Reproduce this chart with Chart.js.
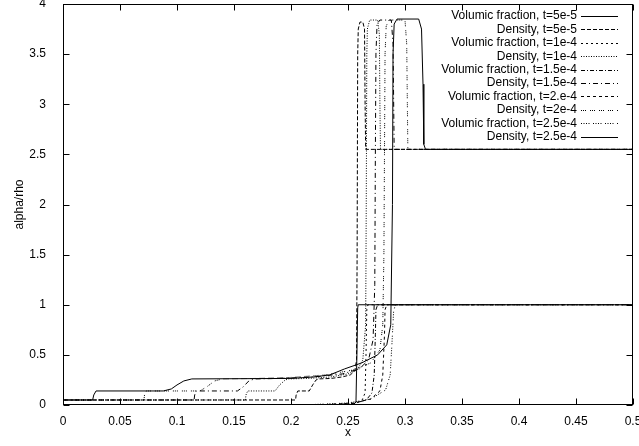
<!DOCTYPE html>
<html>
<head>
<meta charset="utf-8">
<script src="https://cdn.jsdelivr.net/npm/chart.js@4/dist/chart.umd.min.js"></script>
<style>
html, body { margin: 0; padding: 0; background: #fff; }
canvas { display: block; }
</style>
</head>
<body>
<canvas id="chart" width="639" height="446"></canvas>
<script>
// tick values / labels
const xTickValues = [0, 0.05, 0.1, 0.15, 0.2, 0.25, 0.3, 0.35, 0.4, 0.45, 0.5];
const xTickLabels = ['0', '0.05', '0.1', '0.15', '0.2', '0.25', '0.3', '0.35', '0.4', '0.45', '0.5'];
const yTickValues = [0, 0.5, 1, 1.5, 2, 2.5, 3, 3.5, 4];
const yTickLabels = ['0', '0.5', '1', '1.5', '2', '2.5', '3', '3.5', '4'];

const seriesNames = [
    'Volumic fraction, t=5e-5', 'Density, t=5e-5',
    'Volumic fraction, t=1e-4', 'Density, t=1e-4',
    'Volumic fraction, t=1.5e-4', 'Density, t=1.5e-4',
    'Volumic fraction, t=2.e-4', 'Density, t=2e-4',
    'Volumic fraction, t=2.5e-4', 'Density, t=2.5e-4'
];

// t = 5e-5
const vf1X = [0, 0.255, 0.257, 0.2578, 0.2585, 0.259, 0.5];
const vf1Y = [0, 0.005, 0.03, 0.5, 0.97, 1, 1];
const rho1X = [0, 0.204, 0.2045, 0.206, 0.216, 0.219, 0.222, 0.224, 0.235, 0.245, 0.252, 0.256, 0.2575, 0.258, 0.2585, 0.259, 0.2605, 0.263, 0.2645, 0.265, 0.2655, 0.5];
const rho1Y = [0.05, 0.05, 0.1, 0.14, 0.14, 0.2, 0.25, 0.26, 0.265, 0.28, 0.3, 0.34, 0.45, 1.5, 3.5, 3.75, 3.82, 3.82, 3.75, 3.0, 2.55, 2.55];

// t = 1e-4
const vf2X = [0, 0.24, 0.255, 0.262, 0.265, 0.2658, 0.2665, 0.2675, 0.5];
const vf2Y = [0, 0.002, 0.01, 0.04, 0.12, 0.5, 0.95, 1, 1];
const rho2X = [0, 0.16, 0.1605, 0.162, 0.186, 0.19, 0.195, 0.198, 0.215, 0.235, 0.25, 0.258, 0.263, 0.2655, 0.266, 0.2665, 0.267, 0.269, 0.276, 0.2775, 0.278, 0.2785, 0.5];
const rho2Y = [0.05, 0.05, 0.1, 0.14, 0.14, 0.2, 0.25, 0.26, 0.265, 0.28, 0.31, 0.35, 0.45, 0.8, 2, 3.5, 3.75, 3.84, 3.84, 3.7, 3.0, 2.55, 2.55];

// t = 1.5e-4
const vf3X = [0, 0.235, 0.255, 0.266, 0.271, 0.273, 0.274, 0.2745, 0.276, 0.5];
const vf3Y = [0, 0.003, 0.015, 0.05, 0.12, 0.3, 0.7, 0.95, 1, 1];
const rho3X = [0, 0.115, 0.1155, 0.117, 0.153, 0.158, 0.163, 0.168, 0.19, 0.22, 0.245, 0.26, 0.268, 0.272, 0.2735, 0.274, 0.2745, 0.2755, 0.278, 0.288, 0.2895, 0.2905, 0.5];
const rho3Y = [0.05, 0.05, 0.1, 0.14, 0.14, 0.18, 0.24, 0.26, 0.265, 0.28, 0.31, 0.36, 0.45, 0.65, 1.2, 2.5, 3.5, 3.8, 3.84, 3.84, 3.6, 2.55, 2.55];

// t = 2e-4
const vf4X = [0, 0.23, 0.255, 0.27, 0.278, 0.2805, 0.282, 0.2825, 0.284, 0.5];
const vf4Y = [0, 0.004, 0.02, 0.06, 0.14, 0.3, 0.7, 0.95, 1, 1];
const rho4X = [0, 0.071, 0.0715, 0.073, 0.12, 0.126, 0.133, 0.14, 0.17, 0.2, 0.23, 0.255, 0.27, 0.278, 0.2805, 0.2815, 0.282, 0.2825, 0.2835, 0.286, 0.3, 0.3015, 0.3025, 0.5];
const rho4Y = [0.05, 0.05, 0.1, 0.14, 0.14, 0.18, 0.24, 0.26, 0.265, 0.275, 0.3, 0.35, 0.42, 0.55, 0.8, 1.5, 2.5, 3.5, 3.78, 3.84, 3.84, 3.6, 2.55, 2.55];

// t = 2.5e-4
const vf5X = [0, 0.22, 0.25, 0.27, 0.283, 0.287, 0.2885, 0.29, 0.2915, 0.5];
const vf5Y = [0, 0.005, 0.02, 0.06, 0.15, 0.3, 0.6, 0.93, 1, 1];
const rho5X = [0, 0.026, 0.027, 0.029, 0.088, 0.095, 0.1, 0.106, 0.113, 0.2, 0.22, 0.234, 0.247, 0.262, 0.276, 0.284, 0.2875, 0.289, 0.2895, 0.2905, 0.293, 0.312, 0.3145, 0.3158, 0.3165, 0.318, 0.5];
const rho5Y = [0.05, 0.05, 0.1, 0.14, 0.14, 0.16, 0.2, 0.24, 0.26, 0.265, 0.28, 0.3, 0.36, 0.42, 0.5, 0.6, 0.8, 2, 3.5, 3.8, 3.85, 3.85, 3.75, 3.2, 2.6, 2.55, 2.55];

const seriesX = [vf1X, rho1X, vf2X, rho2X, vf3X, rho3X, vf4X, rho4X, vf5X, rho5X];
const seriesY = [vf1Y, rho1Y, vf2Y, rho2Y, vf3Y, rho3Y, vf4Y, rho4Y, vf5Y, rho5Y];
const dashes = [
    [], [4, 2], [2, 3], [1, 1.5], [4, 2, 1, 2],
    [5, 3, 1, 3], [3, 3], [1, 1, 1, 1, 1, 4], [1, 1.5, 1, 1.5, 1, 1.5, 1, 3.5], []
];

const FONT = '"Liberation Sans", Arial, Helvetica, sans-serif';

const datasets = seriesX.map((xs, i) => ({
    label: seriesNames[i],
    data: xs.map((x, j) => ({ x: x, y: seriesY[i][j] })),
    borderColor: '#000',
    borderWidth: 1,
    borderDash: dashes[i],
    pointRadius: 0,
    showLine: true,
    fill: false,
    tension: 0
}));

// gnuplot-like frame with inward ticks, legend and axis titles
const gnuplotLook = {
    id: 'gnuplotLook',
    afterDraw(chart) {
        const ctx = chart.ctx;
        const a = chart.chartArea;
        const xs = chart.scales.x, ys = chart.scales.y;
        const L = Math.round(a.left) + 0.5, R = Math.round(a.right) - 0.5;
        const T = Math.round(a.top) + 0.5, B = Math.round(a.bottom) - 0.5;
        ctx.save();
        ctx.strokeStyle = '#000';
        ctx.lineWidth = 1;
        ctx.setLineDash([]);
        ctx.strokeRect(L, T, R - L, B - T);
        ctx.beginPath();
        xTickValues.forEach(v => {
            const px = Math.round(xs.getPixelForValue(v)) + 0.5;
            ctx.moveTo(px, B); ctx.lineTo(px, B - 6);
            ctx.moveTo(px, T); ctx.lineTo(px, T + 6);
        });
        yTickValues.forEach(v => {
            const py = Math.round(ys.getPixelForValue(v)) + 0.5;
            ctx.moveTo(L, py); ctx.lineTo(L + 6, py);
            ctx.moveTo(R, py); ctx.lineTo(R - 6, py);
        });
        ctx.stroke();

        // legend
        ctx.font = '12px ' + FONT;
        ctx.fillStyle = '#000';
        ctx.textAlign = 'right';
        ctx.textBaseline = 'middle';
        chart.data.datasets.forEach((ds, i) => {
            const ry = 16 + i * 13.4;
            ctx.fillText(ds.label, 577, ry);
            ctx.beginPath();
            ctx.setLineDash(ds.borderDash);
            ctx.moveTo(581, Math.round(ry) + 0.5);
            ctx.lineTo(618, Math.round(ry) + 0.5);
            ctx.stroke();
        });
        ctx.setLineDash([]);

        // axis titles
        ctx.textAlign = 'center';
        ctx.fillText('x', (a.left + a.right) / 2, 433);
        ctx.translate(20, (a.top + a.bottom) / 2);
        ctx.rotate(-Math.PI / 2);
        ctx.fillText('alpha/rho', 0, 0);
        ctx.restore();
    }
};

new Chart(document.getElementById('chart').getContext('2d'), {
    type: 'scatter',
    data: { datasets: datasets },
    options: {
        responsive: false,
        animation: false,
        devicePixelRatio: 1,
        layout: { padding: { top: 4, right: 6, left: 0, bottom: 0 } },
        plugins: {
            legend: { display: false },
            tooltip: { enabled: false }
        },
        scales: {
            x: {
                type: 'linear',
                min: 0,
                max: 0.5,
                afterBuildTicks: s => { s.ticks = xTickValues.map(v => ({ value: v })); },
                afterFit: s => { s.height = 41; s.paddingLeft = 0; s.paddingRight = 0; },
                grid: { display: false },
                border: { display: false },
                ticks: {
                    padding: 1,
                    color: '#000',
                    font: { family: FONT, size: 12 },
                    maxRotation: 0,
                    autoSkip: false,
                    callback: (v, i) => xTickLabels[i]
                }
            },
            y: {
                type: 'linear',
                min: 0,
                max: 4,
                afterBuildTicks: s => { s.ticks = yTickValues.map(v => ({ value: v })); },
                afterFit: s => { s.width = 63; s.paddingTop = 0; s.paddingBottom = 0; },
                grid: { display: false },
                border: { display: false },
                ticks: {
                    padding: 9,
                    color: '#000',
                    font: { family: FONT, size: 12 },
                    autoSkip: false,
                    callback: (v, i) => yTickLabels[i]
                }
            }
        }
    },
    plugins: [gnuplotLook]
});
</script>
</body>
</html>
